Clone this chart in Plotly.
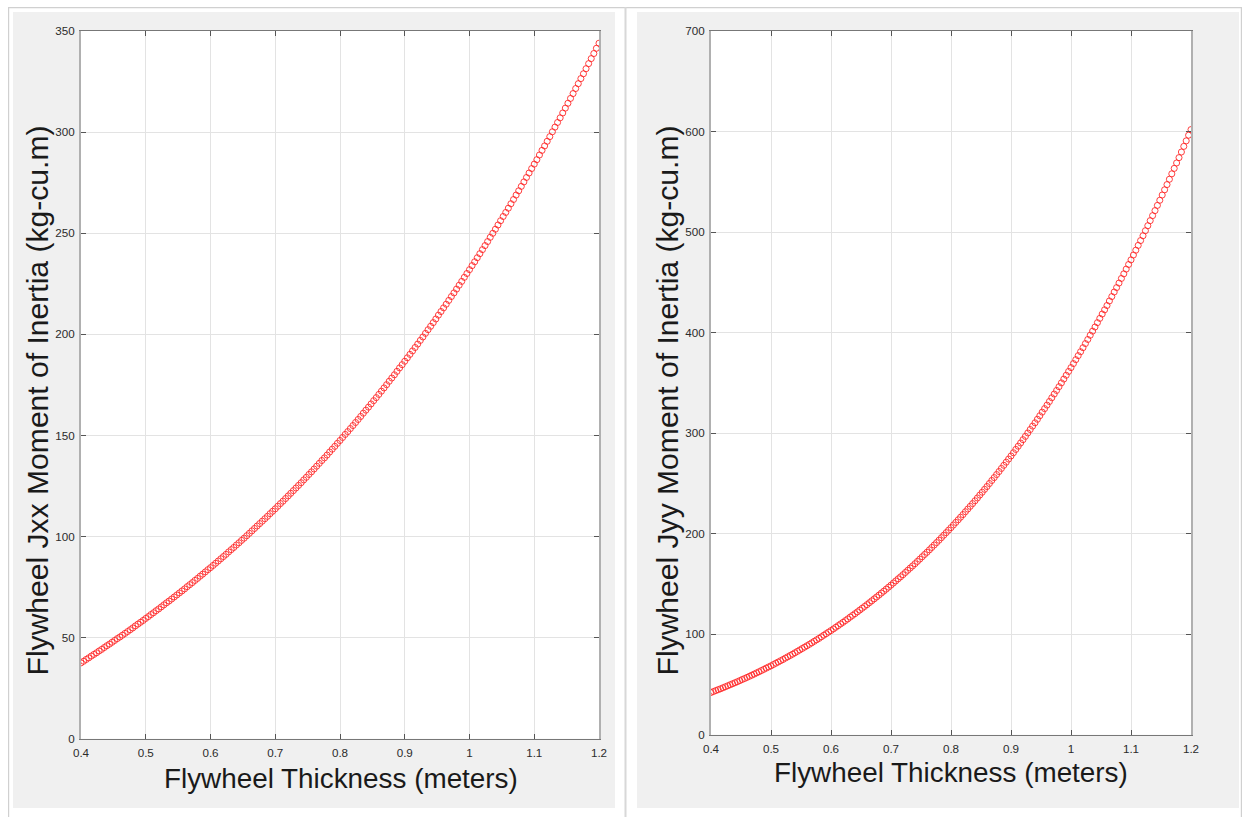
import plotly.graph_objects as go

# Page size; the plot div is pinned to the top-left corner of the page.
W, H = 1250, 823
# The photographed page lands in the picture inside an 8px frame, i.e. it is
# mapped onto a (W-16) x (H-16) area. Positions below are given in picture
# pixels and converted through that mapping.
FRAME = 8
IW, IH = W - 2 * FRAME, H - 2 * FRAME
SCALE = IW / W

# Flywheel thickness samples (m)
thickness = [
    0.400, 0.404, 0.408, 0.412, 0.416, 0.420, 0.424, 0.428, 0.432, 0.436,
    0.440, 0.444, 0.448, 0.452, 0.456, 0.460, 0.464, 0.468, 0.472, 0.476,
    0.480, 0.484, 0.488, 0.492, 0.496, 0.500, 0.504, 0.508, 0.512, 0.516,
    0.520, 0.524, 0.528, 0.532, 0.536, 0.540, 0.544, 0.548, 0.552, 0.556,
    0.560, 0.564, 0.568, 0.572, 0.576, 0.580, 0.584, 0.588, 0.592, 0.596,
    0.600, 0.604, 0.608, 0.612, 0.616, 0.620, 0.624, 0.628, 0.632, 0.636,
    0.640, 0.644, 0.648, 0.652, 0.656, 0.660, 0.664, 0.668, 0.672, 0.676,
    0.680, 0.684, 0.688, 0.692, 0.696, 0.700, 0.704, 0.708, 0.712, 0.716,
    0.720, 0.724, 0.728, 0.732, 0.736, 0.740, 0.744, 0.748, 0.752, 0.756,
    0.760, 0.764, 0.768, 0.772, 0.776, 0.780, 0.784, 0.788, 0.792, 0.796,
    0.800, 0.804, 0.808, 0.812, 0.816, 0.820, 0.824, 0.828, 0.832, 0.836,
    0.840, 0.844, 0.848, 0.852, 0.856, 0.860, 0.864, 0.868, 0.872, 0.876,
    0.880, 0.884, 0.888, 0.892, 0.896, 0.900, 0.904, 0.908, 0.912, 0.916,
    0.920, 0.924, 0.928, 0.932, 0.936, 0.940, 0.944, 0.948, 0.952, 0.956,
    0.960, 0.964, 0.968, 0.972, 0.976, 0.980, 0.984, 0.988, 0.992, 0.996,
    1.000, 1.004, 1.008, 1.012, 1.016, 1.020, 1.024, 1.028, 1.032, 1.036,
    1.040, 1.044, 1.048, 1.052, 1.056, 1.060, 1.064, 1.068, 1.072, 1.076,
    1.080, 1.084, 1.088, 1.092, 1.096, 1.100, 1.104, 1.108, 1.112, 1.116,
    1.120, 1.124, 1.128, 1.132, 1.136, 1.140, 1.144, 1.148, 1.152, 1.156,
    1.160, 1.164, 1.168, 1.172, 1.176, 1.180, 1.184, 1.188, 1.192, 1.196,
    1.200,
]

# Jxx moment of inertia (kg-cu.m)
jxx = [
    37.5, 38.3, 39.2, 40.0, 40.9, 41.7, 42.5, 43.4, 44.2, 45.1,
    46.0, 46.8, 47.7, 48.6, 49.5, 50.3, 51.2, 52.1, 53.0, 53.9,
    54.8, 55.8, 56.7, 57.6, 58.5, 59.5, 60.4, 61.4, 62.3, 63.3,
    64.2, 65.2, 66.2, 67.2, 68.1, 69.1, 70.1, 71.1, 72.1, 73.1,
    74.1, 75.2, 76.2, 77.2, 78.3, 79.3, 80.4, 81.4, 82.5, 83.6,
    84.6, 85.7, 86.8, 87.9, 89.0, 90.1, 91.2, 92.4, 93.5, 94.6,
    95.8, 96.9, 98.1, 99.2, 100.4, 101.6, 102.8, 104.0, 105.2, 106.4,
    107.6, 108.8, 110.0, 111.3, 112.5, 113.7, 115.0, 116.3, 117.5, 118.8,
    120.1, 121.4, 122.7, 124.0, 125.3, 126.6, 128.0, 129.3, 130.7, 132.0,
    133.4, 134.8, 136.2, 137.6, 138.9, 140.3, 141.8, 143.2, 144.6, 146.1,
    147.5, 149.0, 150.5, 151.9, 153.4, 154.9, 156.4, 157.9, 159.4, 161.0,
    162.5, 164.0, 165.6, 167.2, 168.7, 170.3, 171.9, 173.5, 175.1, 176.8,
    178.4, 180.0, 181.7, 183.4, 185.0, 186.7, 188.4, 190.1, 191.8, 193.5,
    195.2, 197.0, 198.7, 200.5, 202.3, 204.0, 205.8, 207.6, 209.5, 211.3,
    213.1, 214.9, 216.8, 218.7, 220.5, 222.4, 224.3, 226.2, 228.2, 230.1,
    232.0, 234.0, 235.9, 237.9, 239.9, 241.9, 243.9, 245.9, 248.0, 250.0,
    252.0, 254.1, 256.2, 258.3, 260.3, 262.4, 264.6, 266.7, 268.9, 271.0,
    273.2, 275.4, 277.6, 279.8, 282.0, 284.2, 286.4, 288.7, 291.0, 293.2,
    295.5, 297.8, 300.2, 302.5, 304.8, 307.1, 309.5, 311.9, 314.3, 316.7,
    319.1, 321.6, 324.0, 326.5, 328.9, 331.4, 333.9, 336.4, 338.9, 341.5,
    344.0,
]

# Jyy moment of inertia (kg-cu.m)
jyy = [
    42.0, 42.9, 43.9, 44.8, 45.7, 46.7, 47.7, 48.7, 49.7, 50.7,
    51.7, 52.7, 53.8, 54.9, 55.9, 57.0, 58.1, 59.2, 60.3, 61.5,
    62.6, 63.8, 65.0, 66.2, 67.4, 68.5, 69.8, 71.1, 72.3, 73.6,
    74.8, 76.2, 77.5, 78.8, 80.1, 81.5, 82.9, 84.3, 85.7, 87.1,
    88.5, 89.9, 91.4, 92.9, 94.4, 95.8, 97.4, 99.0, 100.5, 102.1,
    103.6, 105.2, 106.9, 108.5, 110.2, 111.8, 113.5, 115.2, 117.0, 118.7,
    120.4, 122.2, 124.0, 125.8, 127.6, 129.4, 131.3, 133.2, 135.1, 137.0,
    138.9, 140.9, 142.8, 144.8, 146.8, 148.8, 150.9, 153.0, 155.1, 157.1,
    159.2, 161.4, 163.6, 165.8, 167.9, 170.1, 172.4, 174.7, 177.0, 179.3,
    181.5, 183.9, 186.3, 188.7, 191.1, 193.5, 196.0, 198.5, 201.0, 203.5,
    206.0, 208.6, 211.2, 213.8, 216.4, 219.0, 221.8, 224.5, 227.2, 229.9,
    232.7, 235.5, 238.4, 241.2, 244.1, 246.9, 249.9, 252.9, 255.8, 258.8,
    261.8, 264.9, 268.0, 271.1, 274.2, 277.3, 280.5, 283.8, 287.0, 290.2,
    293.5, 296.8, 300.2, 303.6, 307.0, 310.3, 313.8, 317.3, 320.9, 324.4,
    327.9, 331.5, 335.2, 338.9, 342.5, 346.2, 350.0, 353.8, 357.6, 361.4,
    365.2, 369.2, 373.1, 377.1, 381.0, 385.0, 389.1, 393.2, 397.4, 401.5,
    405.6, 409.9, 414.2, 418.5, 422.7, 427.0, 431.5, 435.9, 440.4, 444.8,
    449.3, 453.9, 458.5, 463.2, 467.8, 472.4, 477.2, 482.0, 486.8, 491.6,
    496.4, 501.4, 506.4, 511.4, 516.4, 521.4, 526.6, 531.7, 536.9, 542.1,
    547.3, 552.6, 558.0, 563.4, 568.8, 574.1, 579.7, 585.3, 590.8, 596.4,
    602.0,
]

x_ticks = [0.4, 0.5, 0.6, 0.7, 0.8, 0.9, 1.0, 1.1, 1.2]
x_ticktext = ["0.4", "0.5", "0.6", "0.7", "0.8", "0.9", "1", "1.1", "1.2"]
y1_ticks = [0, 50, 100, 150, 200, 250, 300, 350]
y2_ticks = [0, 100, 200, 300, 400, 500, 600, 700]

x_title = "Flywheel Thickness (meters)"
y1_title = "Flywheel Jxx Moment of Inertia (kg-cu.m)"
y2_title = "Flywheel Jyy Moment of Inertia (kg-cu.m)"


def px(x):
    """picture x pixel -> paper fraction (clamped to the page)"""
    return min(max((x - FRAME) / IW, 0.0), 1.0)


def py(y):
    """picture y pixel -> paper fraction (clamped to the page)"""
    return min(max(1 - (y - FRAME) / IH, 0.0), 1.0)


def fs(size):
    """font / marker size as it should appear in the picture"""
    return size / SCALE


marker = dict(symbol="circle-open", size=fs(6), color="#ff2020",
              line=dict(width=0.85, color="#ff2020"))

fig = go.Figure()
fig.add_trace(go.Scatter(x=thickness, y=jxx, mode="markers", marker=marker,
                         xaxis="x", yaxis="y", showlegend=False, hoverinfo="skip"))
fig.add_trace(go.Scatter(x=thickness, y=jyy, mode="markers", marker=marker,
                         xaxis="x2", yaxis="y2", showlegend=False, hoverinfo="skip"))

tickfont = dict(family="Liberation Sans, Arial, sans-serif", size=fs(11.5), color="#2b2b2b")
xcommon = dict(range=[0.4, 1.2], tickvals=x_ticks, ticktext=x_ticktext,
               showgrid=True, gridcolor="#e3e3e3", gridwidth=1,
               ticks="inside", ticklen=5, tickcolor="#555", tickwidth=1,
               showline=True, linecolor="#777777", linewidth=1, mirror="ticks",
               zeroline=False, tickfont=tickfont, fixedrange=True,
               ticklabelstandoff=3)
ycommon = dict(showgrid=True, gridcolor="#e3e3e3", gridwidth=1,
               ticks="inside", ticklen=5, tickcolor="#555", tickwidth=1,
               showline=True, linecolor="#b0b0b0", linewidth=2, mirror="ticks",
               zeroline=False, tickfont=tickfont, fixedrange=True,
               ticklabelstandoff=2)

L1 = (81, 599, 32, 737)     # left plot area: x0, x1, ytop, ybottom (picture px)
L2 = (711, 1191, 32, 733)   # right plot area

fig.update_layout(
    autosize=True,
    margin=dict(l=0, r=0, t=0, b=0),
    paper_bgcolor="white", plot_bgcolor="white",
    xaxis=dict(domain=[px(L1[0]), px(L1[1])], anchor="y", **xcommon),
    yaxis=dict(domain=[py(L1[3]), py(L1[2])], anchor="x", range=[0, 350],
               tickvals=y1_ticks, **ycommon),
    xaxis2=dict(domain=[px(L2[0]), px(L2[1])], anchor="y2", **xcommon),
    yaxis2=dict(domain=[py(L2[3]), py(L2[2])], anchor="x2", range=[0, 700],
                tickvals=y2_ticks, **ycommon),
)


def prect(x0, x1, ytop, ybot, color):
    return dict(type="rect", xref="paper", yref="paper", x0=px(x0), x1=px(x1),
                y0=py(ybot), y1=py(ytop), fillcolor=color, line=dict(width=0),
                layer="below")


def pline(x0, y0, x1, y1, color, width):
    return dict(type="line", xref="paper", yref="paper", x0=x0, x1=x1,
                y0=y0, y1=y1, line=dict(color=color, width=width))


shapes = [
    prect(13, 615, 13, 806, "#f0f0f0"),
    prect(637, 1239, 13, 806, "#f0f0f0"),
    prect(L1[0], L1[1], L1[2], L1[3], "white"),
    prect(L2[0], L2[1], L2[2], L2[3], "white"),
    # outer frame lines sit at the very edge of the page
    pline(0, 1 - 0.6 / H, 1, 1 - 0.6 / H, "#d0d0d0", 1.2),
    pline(0.6 / W, 0, 0.6 / W, 1, "#d0d0d0", 1.2),
    pline(1 - 0.6 / W, 0, 1 - 0.6 / W, 1, "#d0d0d0", 1.2),
    pline(px(625.5), 0, px(625.5), 1, "#d8d8d8", 2),
]
fig.update_layout(shapes=shapes)

xt_font = dict(family="Liberation Sans, Arial, sans-serif", size=fs(27.5), color="#1a1a1a")
yt_font = dict(family="Liberation Sans, Arial, sans-serif", size=fs(29.7), color="#1a1a1a")
annotations = [
    dict(text=x_title, xref="paper", yref="paper", x=px(341), y=py(777),
         showarrow=False, font=xt_font, xanchor="center", yanchor="middle"),
    dict(text=x_title, xref="paper", yref="paper", x=px(951), y=py(771),
         showarrow=False, font=xt_font, xanchor="center", yanchor="middle"),
    dict(text=y1_title, xref="paper", yref="paper", x=px(37), y=py(400),
         showarrow=False, font=yt_font, textangle=-90, xanchor="center", yanchor="middle"),
    dict(text=y2_title, xref="paper", yref="paper", x=px(667), y=py(400),
         showarrow=False, font=yt_font, textangle=-90, xanchor="center", yanchor="middle"),
]
fig.update_layout(annotations=annotations)

# Pin the plot div to the page origin so the body margin does not shift it.
fig.write_html(
    "out.html",
    config={"displayModeBar": False, "staticPlot": True},
    default_width=f"{W}px",
    default_height=f"{H}px; position:absolute; left:0; top:0",
)
